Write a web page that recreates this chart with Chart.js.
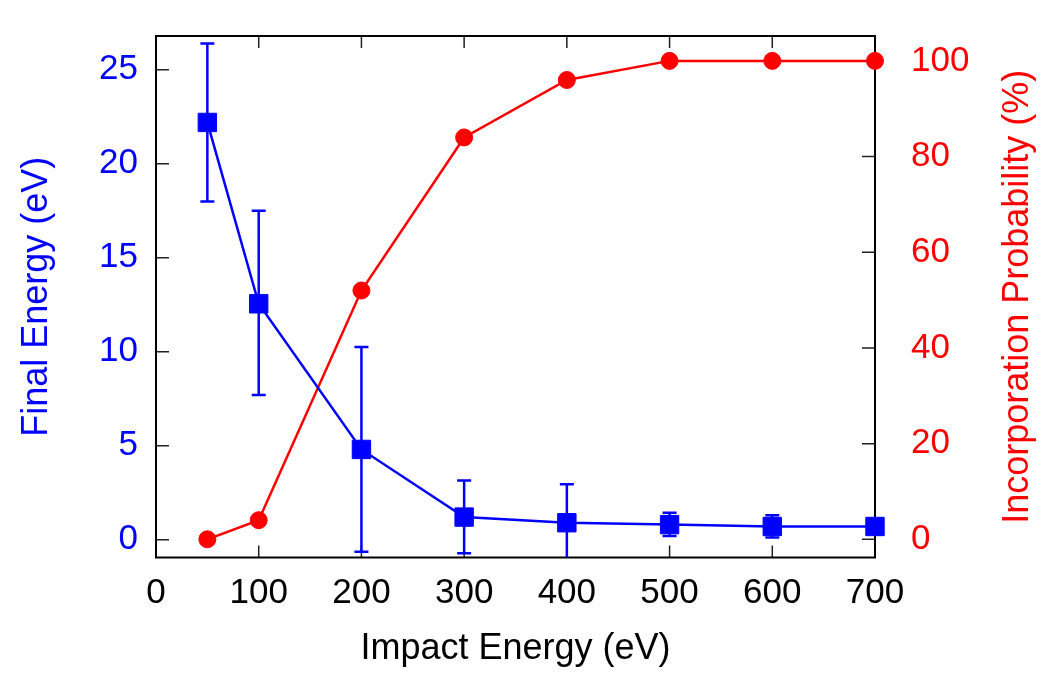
<!DOCTYPE html>
<html>
<head>
<meta charset="utf-8">
<script src="https://cdn.jsdelivr.net/npm/chart.js@4.4.1/dist/chart.umd.min.js"></script>
<style>
  html, body { margin: 0; padding: 0; background: #fff; }
  #wrap { width: 1050px; height: 675px; }
</style>
</head>
<body>
<div id="wrap"><canvas id="energyChart" width="1050" height="675"></canvas></div>
<script>
// data
const impactEnergy = [50, 100, 200, 300, 400, 500, 600, 700];
const finalEnergy = [22.2, 12.55, 4.8, 1.2, 0.9, 0.8, 0.7, 0.7];
const finalEnergyLow = [18.0, 7.7, -0.65, -0.73, -1.2, 0.19, 0.12, 0.6];
const finalEnergyHigh = [26.4, 17.5, 10.25, 3.15, 2.95, 1.43, 1.3, 0.8];
const incorporation = [0, 4, 52, 84, 96, 100, 100, 100];

const xTicks = [0, 100, 200, 300, 400, 500, 600, 700];
const yTicks = [0, 5, 10, 15, 20, 25];
const y2Ticks = [0, 20, 40, 60, 80, 100];

const y2Title = 'Incorporation Probability (%)';

const BLUE = '#0000ff';
const RED = '#ff0000';
const FONT = { family: 'Liberation Sans', size: 35 };
const TITLE_FONT = { family: 'Liberation Sans', size: 36 };

// frame box + gnuplot style inward ticks
const frameTicks = {
  id: 'frameTicks',
  beforeDatasetsDraw(chart) {
    const { ctx, chartArea: a, scales } = chart;
    ctx.save();
    ctx.strokeStyle = '#222';
    ctx.lineWidth = 1.5;
    ctx.beginPath();
    scales.x.ticks.forEach((t) => {
      const px = scales.x.getPixelForValue(t.value);
      ctx.moveTo(px, a.bottom);
      ctx.lineTo(px, a.bottom - 12);
      ctx.moveTo(px, a.top);
      ctx.lineTo(px, a.top + 12);
    });
    scales.y.ticks.forEach((t) => {
      const py = scales.y.getPixelForValue(t.value);
      ctx.moveTo(a.left, py);
      ctx.lineTo(a.left + 13, py);
    });
    scales.y2.ticks.forEach((t) => {
      const py = scales.y2.getPixelForValue(t.value);
      ctx.moveTo(a.right, py);
      ctx.lineTo(a.right - 13, py);
    });
    ctx.stroke();
    ctx.strokeStyle = '#000';
    ctx.lineWidth = 2;
    ctx.strokeRect(a.left, a.top, a.right - a.left, a.bottom - a.top);

    // right axis title, reads bottom to top like the left one
    ctx.translate(1018, (a.top + a.bottom) / 2);
    ctx.rotate(-Math.PI / 2);
    ctx.fillStyle = RED;
    ctx.font = TITLE_FONT.size + 'px ' + TITLE_FONT.family;
    ctx.textAlign = 'center';
    ctx.textBaseline = 'middle';
    ctx.fillText(y2Title, 0, 0);
    ctx.restore();
  },
};

// vertical error bars for the final energy series
const errorBars = {
  id: 'errorBars',
  afterDatasetsDraw(chart) {
    const { ctx, chartArea: a, scales } = chart;
    ctx.save();
    ctx.beginPath();
    ctx.rect(a.left, a.top, a.right - a.left, a.bottom - a.top);
    ctx.clip();
    ctx.strokeStyle = BLUE;
    ctx.lineWidth = 2.5;
    ctx.beginPath();
    impactEnergy.forEach((e, i) => {
      const px = scales.x.getPixelForValue(e);
      const lo = scales.y.getPixelForValue(finalEnergyLow[i]);
      const hi = scales.y.getPixelForValue(finalEnergyHigh[i]);
      ctx.moveTo(px, lo);
      ctx.lineTo(px, hi);
      ctx.moveTo(px - 7, lo);
      ctx.lineTo(px + 7, lo);
      ctx.moveTo(px - 7, hi);
      ctx.lineTo(px + 7, hi);
    });
    ctx.stroke();
    ctx.restore();
  },
};

// fixed box sizes, no extra label overflow padding
function fixBox(size, key) {
  return (s) => {
    s[key] = size;
    s.paddingTop = 0;
    s.paddingBottom = 0;
    s.paddingLeft = 0;
    s.paddingRight = 0;
  };
}

const ctx = document.getElementById('energyChart');

new Chart(ctx, {
  type: 'line',
  data: {
    datasets: [
      {
        label: 'Final Energy',
        data: impactEnergy.map((e, i) => ({ x: e, y: finalEnergy[i] })),
        yAxisID: 'y',
        borderColor: BLUE,
        backgroundColor: BLUE,
        borderWidth: 2.5,
        pointStyle: 'rect',
        pointRadius: 13,
        pointBorderWidth: 1,
        tension: 0,
        clip: false,
      },
      {
        label: 'Incorporation Probability',
        data: impactEnergy.map((e, i) => ({ x: e, y: incorporation[i] })),
        yAxisID: 'y2',
        borderColor: RED,
        backgroundColor: RED,
        borderWidth: 2.5,
        pointStyle: 'circle',
        pointRadius: 8.5,
        pointBorderWidth: 1,
        tension: 0,
        clip: false,
      },
    ],
  },
  options: {
    responsive: false,
    animation: false,
    events: [],
    layout: {
      padding: { top: 36, left: 0, right: 0, bottom: 0 },
    },
    plugins: {
      legend: { display: false },
      tooltip: { enabled: false },
    },
    scales: {
      x: {
        type: 'linear',
        min: 0,
        max: 700,
        afterBuildTicks: (s) => { s.ticks = xTicks.map((v) => ({ value: v })); },
        afterFit: fixBox(117.5, 'height'),
        grid: { display: false, drawTicks: false },
        border: { display: false },
        ticks: { color: '#000', font: FONT, padding: 15, maxRotation: 0 },
        title: {
          display: true,
          text: 'Impact Energy (eV)',
          color: '#000',
          font: TITLE_FONT,
          padding: { top: 0, bottom: 4 },
        },
      },
      y: {
        type: 'linear',
        position: 'left',
        min: -0.95,
        max: 26.8,
        afterBuildTicks: (s) => { s.ticks = yTicks.map((v) => ({ value: v })); },
        afterFit: fixBox(156, 'width'),
        grid: { display: false, drawTicks: false },
        border: { display: false },
        ticks: { color: BLUE, font: FONT, padding: 18 },
        title: {
          display: true,
          text: 'Final Energy (eV)',
          color: BLUE,
          font: TITLE_FONT,
          padding: { top: 15, bottom: 0 },
        },
      },
      y2: {
        type: 'linear',
        position: 'right',
        min: -3.8,
        max: 105.2,
        afterBuildTicks: (s) => { s.ticks = y2Ticks.map((v) => ({ value: v })); },
        afterFit: fixBox(175, 'width'),
        grid: { display: false, drawTicks: false },
        border: { display: false },
        ticks: { color: RED, font: FONT, padding: 36 },
        title: { display: false },
      },
    },
  },
  plugins: [frameTicks, errorBars],
});
</script>
</body>
</html>
